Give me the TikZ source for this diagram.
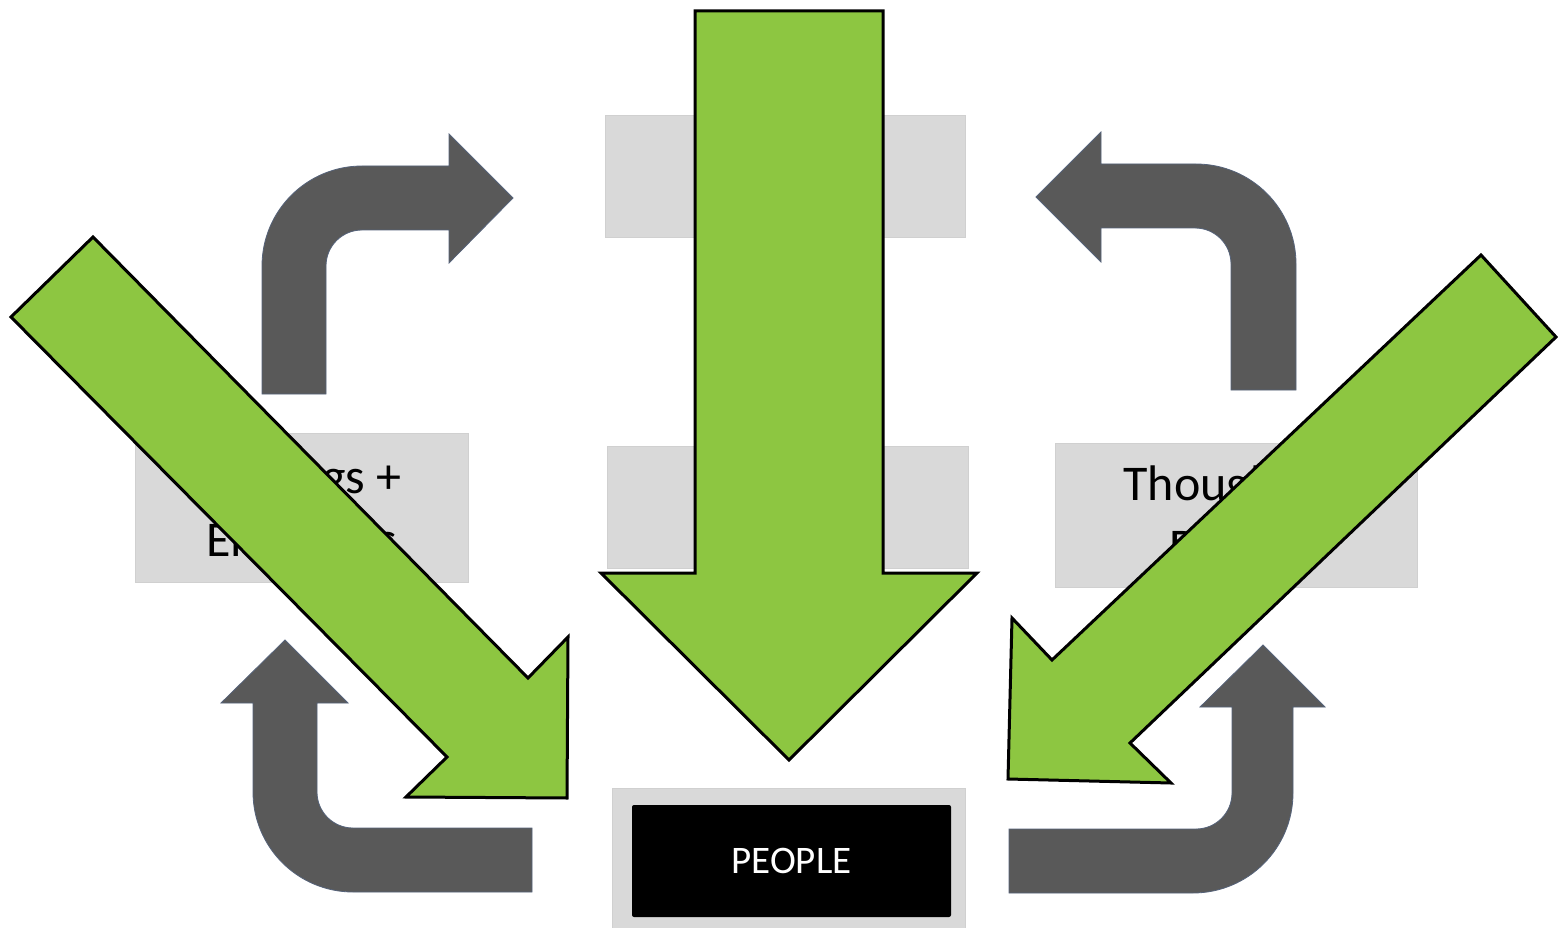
\documentclass[tikz,border=0pt]{standalone}
\usepackage{fontspec}
\setmainfont{Carlito}
\definecolor{boxgray}{HTML}{D9D9D9}
\definecolor{boxedge}{HTML}{D0D0D0}
\definecolor{arrowgray}{HTML}{595959}
\definecolor{arrowedge}{HTML}{56637A}
\definecolor{leaf}{HTML}{8DC641}
\begin{document}
\begin{tikzpicture}[x=1pt,y=-1pt,
  graybox/.style={fill=boxgray, draw=boxedge, line width=0.8pt, inner sep=0pt,
    align=center, font=\fontsize{50}{63}\selectfont},
  peoplebox/.style={fill=black, rounded corners=2pt, inner sep=0pt, text=white,
    font=\fontsize{39}{44}\selectfont},
  bentarrow/.style={fill=arrowgray, draw=arrowedge, line width=0.8pt},
  greenarrow/.style={fill=leaf, draw=black, line width=3pt, line join=miter}]
\useasboundingbox (0,0) rectangle (1558,928);
\fill[white] (0,0) rectangle (1558,928);

% grey boxes
\node[graybox, minimum width=333pt, minimum height=149pt] (feel) at (301.5,507.5) {Feelings +\\Emotions};
\node[graybox, minimum width=360pt, minimum height=122pt] (topbox) at (785,176) {};
\node[graybox, minimum width=361pt, minimum height=122pt] (midbox) at (787.5,507) {};
\node[graybox, minimum width=362pt, minimum height=144pt] (thought) at (1236,515) {Thoughts +\\Beliefs};
\node[graybox, minimum width=353pt, minimum height=140pt] (peopleback) at (788.5,858) {};
\node[peoplebox, minimum width=319pt, minimum height=112pt] (people) at (791.5,861) {PEOPLE};

% dark bent arrows
\path[bentarrow] (262,394) -- (262,266) .. controls (262,210.8) and (306.8,166) .. (362,166)
  -- (449,166) -- (449,134) -- (513,198) -- (449,263) -- (449,230) -- (362,230)
  .. controls (342.1,230) and (326,246.1) .. (326,266) -- (326,394) -- cycle;
\path[bentarrow] (1296,390) -- (1296,264) .. controls (1296,208.8) and (1251.2,164) .. (1196,164)
  -- (1101,164) -- (1101,132) -- (1036,197) -- (1101,262) -- (1101,228) -- (1195,228)
  .. controls (1214.9,228) and (1231,244.1) .. (1231,264) -- (1231,390) -- cycle;
\path[bentarrow] (285,640) -- (348,703) -- (317,703) -- (317,792)
  .. controls (317,811.9) and (333.1,828) .. (353,828) -- (532,828) -- (532,892) -- (353,892)
  .. controls (297.8,892) and (253,847.2) .. (253,792) -- (253,703) -- (221,703) -- cycle;
\path[bentarrow] (1263,645) -- (1325,707) -- (1293,707) -- (1293,793)
  .. controls (1293,848.2) and (1248.2,893) .. (1193,893) -- (1009,893) -- (1009,829) -- (1196,829)
  .. controls (1215.9,829) and (1232,812.9) .. (1232,793) -- (1232,707) -- (1200,707) -- cycle;

% green arrows
\draw[greenarrow] (695,11) -- (883,11) -- (883,573) -- (977,573) -- (789,760)
  -- (601,573) -- (695,573) -- cycle;
\draw[greenarrow] (93,237) -- (528,678) -- (568,637) -- (567,798) -- (406,797)
  -- (447,757) -- (11,317) -- cycle;
\draw[greenarrow] (1481,255) -- (1556,337) -- (1130,743) -- (1171,783) -- (1008,779)
  -- (1012,618) -- (1052,660) -- cycle;
\end{tikzpicture}
\end{document}
